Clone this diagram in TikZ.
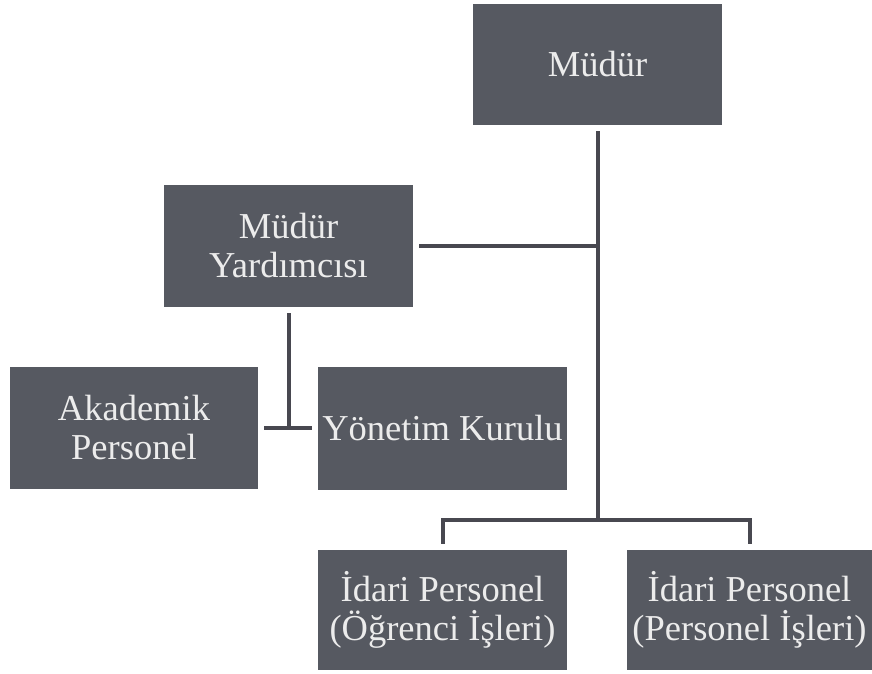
\documentclass[tikz,border=0pt]{standalone}
\usepackage{fontspec}
\setmainfont{Liberation Serif}
\definecolor{boxfill}{RGB}{86,89,97}
\definecolor{boxtext}{RGB}{236,236,236}
\definecolor{linecol}{RGB}{72,72,80}
\begin{document}
\begin{tikzpicture}[x=1pt,y=-1pt,
  orgbox/.style={rectangle, fill=boxfill, text=boxtext, inner sep=0pt,
    align=center, font=\fontsize{36.5}{39}\selectfont},
  conn/.style={draw=linecol, line width=4pt, line join=miter, line cap=butt}]
\fill[white] (0,0) rectangle (872,674);
\useasboundingbox (0,0) rectangle (872,674);

\node[orgbox, minimum width=249pt, minimum height=121pt] (mudur) at (597.5,64.5) {Müdür};
\node[orgbox, minimum width=249pt, minimum height=122pt] (yard) at (288.5,246) {Müdür\\Yardımcısı};
\node[orgbox, minimum width=248pt, minimum height=122pt] (akad) at (134,428) {Akademik\\Personel};
\node[orgbox, minimum width=249pt, minimum height=123pt] (yonetim) at (442.5,428) {Yönetim Kurulu};
\node[orgbox, minimum width=249pt, minimum height=120pt] (idari1) at (442.5,610) {İdari Personel\\(Öğrenci İşleri)};
\node[orgbox, minimum width=245pt, minimum height=120pt] (idari2) at (749.5,610) {İdari Personel\\(Personel İşleri)};

\coordinate (bus) at (597.5,520);

\draw[conn, shorten <=6pt] (mudur.south) -- (bus);
\draw[conn, shorten <=6pt] (yard.east) -- (yard.east -| mudur.south);
\draw[conn, shorten <=6pt, shorten >=6pt] (idari1.north) -- (idari1.north |- bus) -- (idari2.north |- bus) -- (idari2.north);
\draw[conn, shorten <=6pt] (yard.south) -- (yard.south |- akad.east);
\draw[conn, shorten <=6pt, shorten >=6pt] (akad.east) -- (yonetim.west);
\end{tikzpicture}
\end{document}
